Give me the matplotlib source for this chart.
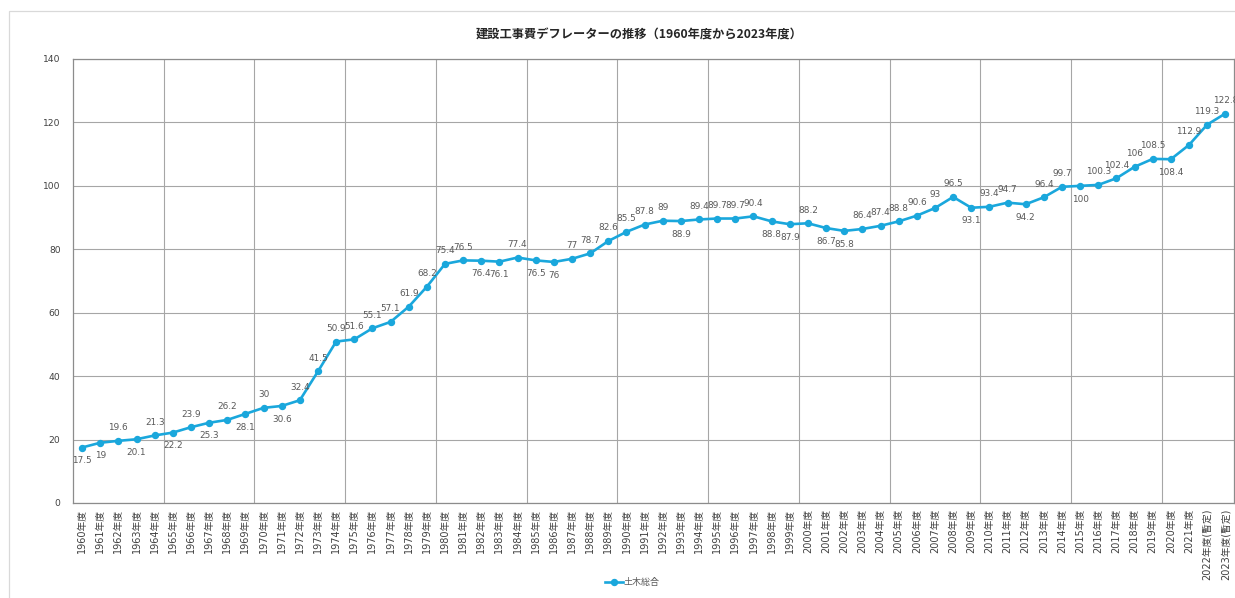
import matplotlib
matplotlib.use("Agg")
import matplotlib.pyplot as plt
from matplotlib.patches import Rectangle

plt.rcParams['font.family'] = ['DejaVu Sans', 'Noto Sans CJK JP']

years = list(range(1960, 2024))
categories = [f"{y}年度" for y in years[:-2]] + ["2022年度(暫定)", "2023年度(暫定)"]
values = [17.5, 19, 19.6, 20.1, 21.3, 22.2, 23.9, 25.3, 26.2, 28.1,
          30, 30.6, 32.4, 41.5, 50.9, 51.6, 55.1, 57.1, 61.9, 68.2,
          75.4, 76.5, 76.4, 76.1, 77.4, 76.5, 76, 77, 78.7, 82.6,
          85.5, 87.8, 89, 88.9, 89.4, 89.7, 89.7, 90.4, 88.8, 87.9,
          88.2, 86.7, 85.8, 86.4, 87.4, 88.8, 90.6, 93, 96.5, 93.1,
          93.4, 94.7, 94.2, 96.4, 99.7, 100, 100.3, 102.4, 106, 108.5,
          108.4, 112.9, 119.3, 122.8]
value_labels = [str(int(v)) if float(v).is_integer() else str(v) for v in values]
# label placement per point: a = above, b = below
label_pos = ['b', 'b', 'a', 'b', 'a', 'b', 'a', 'b', 'a', 'b',   # 1960-1969
             'a', 'b', 'a', 'a', 'a', 'a', 'a', 'a', 'a', 'a',   # 1970-1979
             'a', 'a', 'b', 'b', 'a', 'b', 'b', 'a', 'a', 'a',   # 1980-1989
             'a', 'a', 'a', 'b', 'a', 'a', 'a', 'a', 'b', 'b',   # 1990-1999
             'a', 'b', 'b', 'a', 'a', 'a', 'a', 'a', 'a', 'b',   # 2000-2009
             'a', 'a', 'b', 'a', 'a', 'b', 'a', 'a', 'a', 'a',   # 2010-2019
             'b', 'a', 'a', 'a']                                 # 2020-2023
series_name = "土木総合"
title = "建設工事費デフレーターの推移（1960年度から2023年度）"
yticks = [0, 20, 40, 60, 80, 100, 120, 140]

W, H = 1235, 598
fig = plt.figure(figsize=(W / 100, H / 100), dpi=100)
fig.patches.append(Rectangle((9 / W, -0.1), 1.2, (H - 11) / H + 0.1, transform=fig.transFigure,
                             fill=False, edgecolor='#d9d9d9', linewidth=0.9, zorder=0))

ax = fig.add_axes([73 / W, 1 - 503 / H, (W - 73) / W - 0.0005, (503 - 59) / H])
line_color = '#1aa7dc'
x = list(range(len(values)))
ax.plot(x, values, color=line_color, linewidth=1.9, marker='o', markersize=4.3,
        label=series_name, zorder=3, clip_on=False)

for xi, v, lab, p in zip(x, values, value_labels, label_pos):
    dy = 9.5 if p == 'a' else -9.5
    ax.annotate(lab, (xi, v), xytext=(0, dy), textcoords='offset points',
                ha='center', va='center', fontsize=6.4, color='#595959', zorder=4,
                annotation_clip=False)

ax.set_xlim(-0.5, len(values) - 0.5)
ax.set_ylim(0, 140)
ax.set_yticks(yticks)
ax.set_xticks(x)
ax.set_xticklabels(categories, rotation=90, fontsize=7, color='#404040')
ax.tick_params(axis='x', length=0, pad=4)
ax.tick_params(axis='y', length=0, pad=9, labelsize=6.6, labelcolor='#404040')
ax.set_xticks([i + 4.5 for i in range(0, len(values) - 5, 5)], minor=True)
ax.tick_params(axis='x', which='minor', length=0)
ax.grid(True, axis='y', which='major', color='#a6a6a6', linewidth=0.8)
ax.grid(True, axis='x', which='minor', color='#a6a6a6', linewidth=0.8)
ax.grid(False, axis='x', which='major')
ax.set_axisbelow(True)
for s in ax.spines.values():
    s.set_color('#8c8c8c')
    s.set_linewidth(0.9)

fig.text(639 / W, 1 - 35 / H, title, ha='center', va='center', fontsize=8.8,
         fontweight='bold', color='#262626', family=['Noto Sans CJK JP', 'DejaVu Sans'])

leg = fig.legend(loc='center', bbox_to_anchor=(632 / W, 1 - 583 / H), frameon=False,
                 handlelength=2.0, handletextpad=0.1, labelcolor='#595959',
                 prop={'family': ['Noto Sans CJK JP', 'DejaVu Sans'], 'size': 6.5})

fig.savefig("out.png", dpi=100)
